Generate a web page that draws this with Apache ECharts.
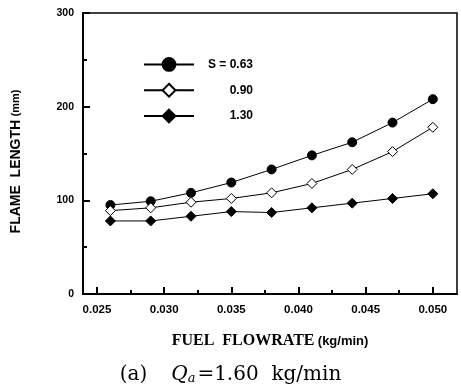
<!DOCTYPE html>
<html><head><meta charset="utf-8">
<script src="https://cdn.jsdelivr.net/npm/echarts@6/dist/echarts.min.js"></script>
<style>html,body{margin:0;padding:0;background:#fff}#c{width:461px;height:387px}</style>
</head><body><div id="c"></div>
<script>
const fuelFlow = [0.026, 0.029, 0.032, 0.035, 0.038, 0.041, 0.044, 0.047, 0.050];
const s063 = [95, 99, 108, 119, 133, 148, 162, 183, 208];
const s090 = [89, 92, 98, 102, 108, 118, 133, 152, 178];
const s130 = [78, 78, 83, 88, 87, 92, 97, 102, 107];
const seriesNames = ['S = 0.63', '0.90', '1.30'];
const xMajorTicks = [0.025, 0.030, 0.035, 0.040, 0.045, 0.050];
const xMinorTicks = [0.0275, 0.0325, 0.0375, 0.0425, 0.0475];
const yMajorTicks = [0, 100, 200, 300];
const yMinorTicks = [50, 150, 250];

const pair = arr => fuelFlow.map((x, i) => [x, arr[i]]);
const chart = echarts.init(document.getElementById('c'));
const X_MIN = 0.02396, X_MAX = 0.0518;

function xAx(values, len, labels) {
  return {
    type: 'value', min: X_MIN, max: X_MAX, position: 'bottom',
    axisLine: {show: labels, lineStyle: {color: '#000', width: 2}},
    splitLine: {show: false},
    axisTick: {show: true, inside: true, length: len, customValues: values, lineStyle: {color: '#000', width: 2}},
    axisLabel: labels ? {show: true, customValues: values, margin: 10,
      formatter: v => v.toFixed(3), fontFamily: 'Liberation Sans, Arial', fontWeight: 'bold', fontSize: 11.5, color: '#000'} : {show: false},
    name: labels ? '{m|FUEL  FLOWRATE} {s|(kg/min)}' : '',
    nameLocation: 'middle', nameGap: 39,
    nameTextStyle: {verticalAlign: 'top', rich: {
      m: {fontFamily: 'Liberation Serif, Times New Roman', fontWeight: 'bold', fontSize: 16, color: '#000'},
      s: {fontFamily: 'Liberation Sans, Arial', fontWeight: 'bold', fontSize: 13, color: '#000'}
    }}
  };
}
function yAx(values, len, labels) {
  return {
    type: 'value', min: 0, max: 300, position: 'left',
    axisLine: {show: labels, lineStyle: {color: '#000', width: 2}},
    splitLine: {show: false},
    axisTick: {show: true, inside: true, length: len, customValues: values, lineStyle: {color: '#000', width: 2}},
    axisLabel: labels ? {show: true, customValues: values, margin: 9,
      fontFamily: 'Liberation Sans, Arial', fontWeight: 'bold', fontSize: 10.5, color: '#000'} : {show: false},
    name: labels ? '{m|FLAME  LENGTH} {s|(mm)}' : '',
    nameLocation: 'middle', nameGap: 60,
    nameTextStyle: {rich: {
      m: {fontFamily: 'Liberation Sans, Arial', fontWeight: 'bold', fontSize: 14, color: '#000'},
      s: {fontFamily: 'Liberation Sans, Arial', fontWeight: 'bold', fontSize: 11, color: '#000', padding: [0, 16, 0, 0]}
    }}
  };
}

const mk = (name, data, symbol, size, fill) => ({
  name, type: 'line', data: pair(data), symbol, symbolSize: size,
  lineStyle: {color: '#000', width: 1},
  itemStyle: {color: fill, borderColor: '#000', borderWidth: 1},
  emphasis: {disabled: true}, animation: false
});

const serif = 'DejaVu Serif, Liberation Serif';
chart.setOption({
  animation: false,
  grid: {left: 83, top: 13, right: 4, bottom: 93, show: true, borderColor: '#000', borderWidth: 1.5},
  xAxis: [xAx(xMajorTicks, 7, true), xAx(xMinorTicks, 4, false)],
  yAxis: [yAx(yMajorTicks, 7, true), yAx(yMinorTicks, 4, false)],
  legend: {
    orient: 'vertical', left: 138, top: 52, itemWidth: 50, itemHeight: 16, itemGap: 11,
    data: seriesNames,
    formatter: n => '{a|' + n + '}',
    textStyle: {rich: {a: {width: 54, align: 'right', fontFamily: 'Liberation Sans, Arial', fontWeight: 'bold', fontSize: 12, color: '#000'}}}
  },
  title: {
    left: 'center', top: 360,
    text: '{n|(a)}{g| }{i|Q}{s|a}{n|=1.60  kg/min}',
    textStyle: {
      fontWeight: 'normal',
      rich: {
        g: {fontFamily: serif, fontWeight: 'normal', fontSize: 20, color: '#000', width: 24, verticalAlign: 'bottom'},
        i: {fontFamily: serif, fontWeight: 'normal', fontStyle: 'italic', fontSize: 20, color: '#000', verticalAlign: 'bottom'},
        s: {fontFamily: serif, fontWeight: 'normal', fontStyle: 'italic', fontSize: 13, color: '#000', padding: [7, 2, 0, 0], verticalAlign: 'bottom'},
        n: {fontFamily: serif, fontWeight: 'normal', fontSize: 20, color: '#000', verticalAlign: 'bottom'}
      }
    }
  },
  series: [
    mk(seriesNames[0], s063, 'circle', 9, '#000'),
    mk(seriesNames[1], s090, 'diamond', 10, '#fff'),
    mk(seriesNames[2], s130, 'diamond', 10, '#000')
  ]
});
</script></body></html>
